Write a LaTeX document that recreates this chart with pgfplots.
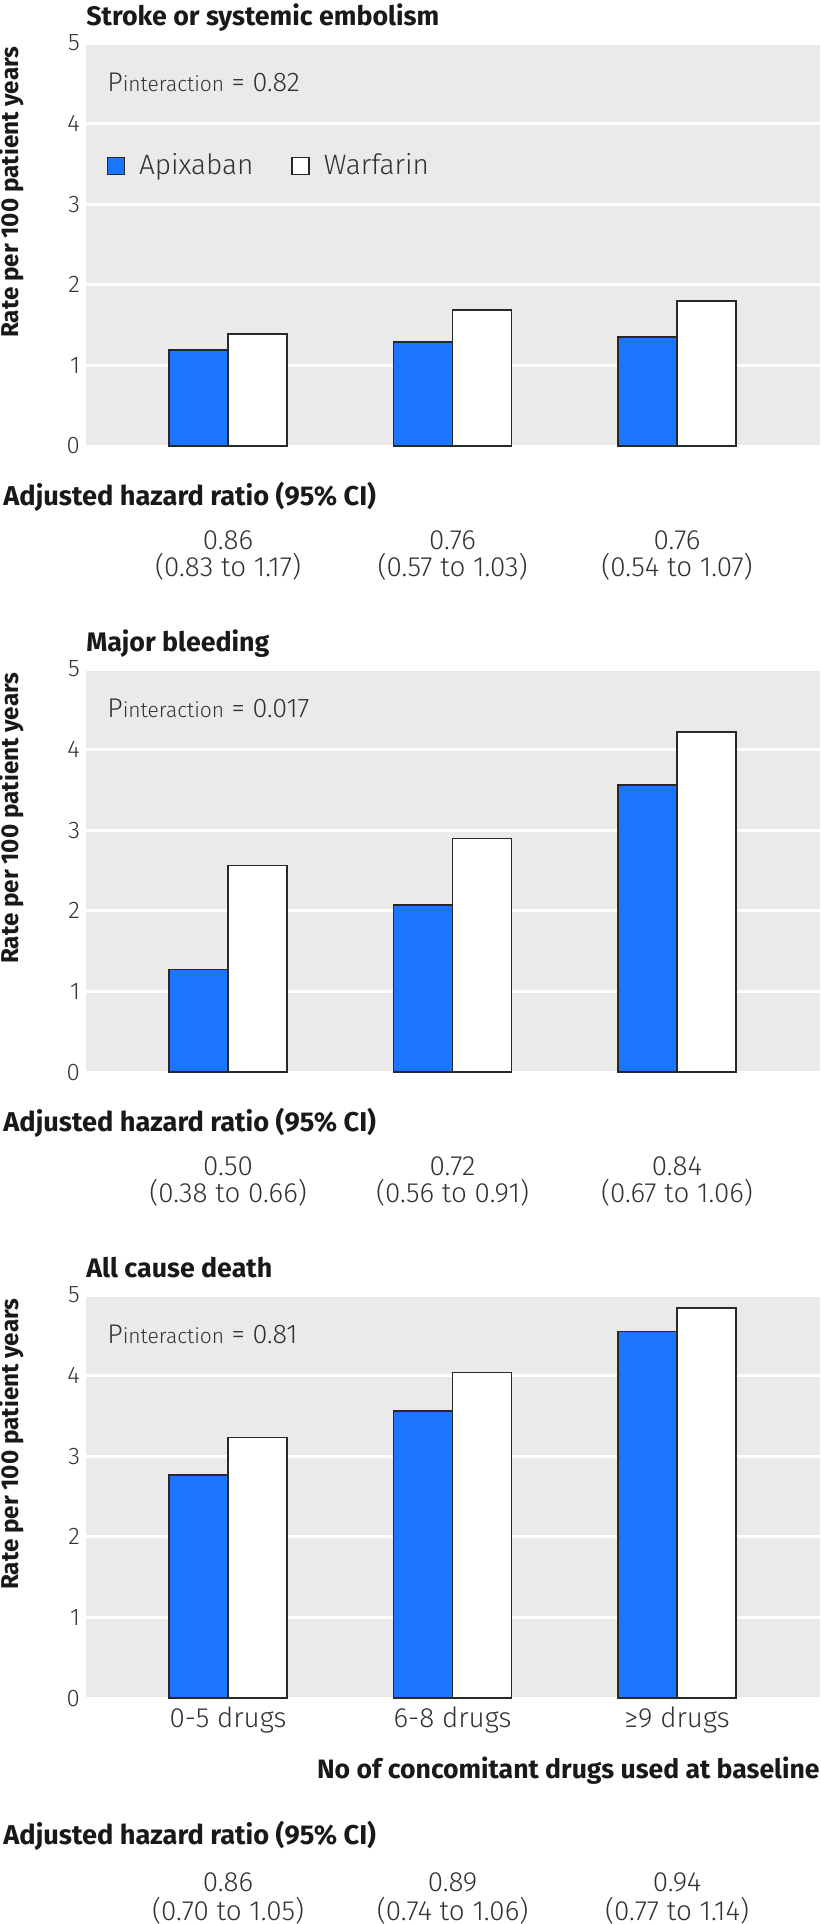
\documentclass[border=0pt]{standalone}
\usepackage{fontspec}
\setmainfont{Fira Sans}
\newfontfamily\lightfont{Fira Sans Light}
\usepackage{pgfplots}
\usepackage{pgfplotstable}
\pgfplotsset{compat=1.18}

\definecolor{apix}{RGB}{27,117,255}
\definecolor{panelbg}{RGB}{234,234,234}
\definecolor{edge}{RGB}{40,40,40}
\definecolor{txt}{RGB}{50,50,50}
\definecolor{hd}{RGB}{25,25,25}

% rates per 100 patient years
\pgfplotstableread{
x apix warf
0 1.19 1.39
1 1.29 1.69
2 1.35 1.80
}\stroke
\pgfplotstableread{
x apix warf
0 1.27 2.56
1 2.07 2.90
2 3.56 4.22
}\bleed
\pgfplotstableread{
x apix warf
0 2.77 3.23
1 3.56 4.04
2 4.55 4.84
}\death

\pgfplotsset{
  panel/.style={
    scale only axis, width=367pt, height=201.5pt,
    xmin=-0.633, xmax=2.637, ymin=0, ymax=5,
    ybar=0pt, bar width=0.263,
    axis background/.style={fill=panelbg},
    axis line style={draw=none},
    major tick length=0pt,
    ytick={0,1,...,5},
    ymajorgrids, major grid style={white, line width=1.5pt},
    xtick={0,1,2}, xticklabels={},
    tick label style={font=\lightfont\fontsize{12}{14}\selectfont, text=txt},
    yticklabel style={xshift=0.5pt},
    /pgf/number format/assume math mode=true,
    clip=false,
    every axis plot/.append style={draw=edge, line width=0.75pt},
  },
}
\tikzset{
  ptitle/.style={anchor=base west, inner sep=0pt, text=hd, font=\bfseries\fontsize{13.4}{16}\selectfont},
  pint/.style={anchor=base west, inner sep=0pt, text=txt, font=\lightfont\fontsize{13.5}{15}\selectfont},
  hrhead/.style={anchor=base west, inner sep=0pt, text=hd, font=\bfseries\fontsize{13.6}{15}\selectfont},
  hrval/.style={anchor=base, inner sep=0pt, text=txt, font=\lightfont\fontsize{13.9}{16}\selectfont},
  ylab/.style={rotate=90, inner sep=0pt, text=hd, font=\bfseries\fontsize{12.15}{14}\selectfont},
}
\newcommand{\pint}[1]{P{\fontsize{10.5}{12}\selectfont interaction} = #1}

\begin{document}
\begin{tikzpicture}
\useasboundingbox (0,0) rectangle (410pt,-962pt);

% panel 1
\begin{axis}[panel, at={(43pt,-223pt)}, anchor=south west,
  legend style={at={(0.028,0.695)}, anchor=west, draw=none, fill=none,
    inner sep=0pt, outer sep=0pt,
    legend columns=2, font=\lightfont\fontsize{14}{16}\selectfont, text=txt,
    /tikz/every odd column/.append style={column sep=5pt},
    /tikz/every even column/.append style={column sep=17pt}},
  legend image code/.code={\draw[#1, line width=0.75pt] (0pt,-4.25pt) rectangle (8.5pt,4.25pt);}]
\addplot[fill=apix] table[x=x, y=apix] {\stroke};
\addplot[fill=white] table[x=x, y=warf] {\stroke};
\legend{Apixaban, Warfarin}
\node[ptitle] at (rel axis cs:0,1) [yshift=9pt] {Stroke or systemic embolism};
\node[pint] at (rel axis cs:0,1) [xshift=10.5pt, yshift=-24pt] {\pint{0.82}};
\node[ylab] at (rel axis cs:-0.102,0.63) {Rate per 100 patient years};
\node[hrhead] at (rel axis cs:0,0) [xshift=-41.5pt, yshift=-29.5pt] {Adjusted hazard ratio (95\% CI)};
\node[hrval] at (axis cs:0,0) [yshift=-51.75pt] {0.86};
\node[hrval] at (axis cs:1,0) [yshift=-51.75pt] {0.76};
\node[hrval] at (axis cs:2,0) [yshift=-51.75pt] {0.76};
\node[hrval] at (axis cs:0,0) [yshift=-65pt] {(0.83 to 1.17)};
\node[hrval] at (axis cs:1,0) [yshift=-65pt] {(0.57 to 1.03)};
\node[hrval] at (axis cs:2,0) [yshift=-65pt] {(0.54 to 1.07)};
\end{axis}

% panel 2
\begin{axis}[panel, at={(43pt,-536pt)}, anchor=south west]
\addplot[fill=apix] table[x=x, y=apix] {\bleed};
\addplot[fill=white] table[x=x, y=warf] {\bleed};
\node[ptitle] at (rel axis cs:0,1) [yshift=9pt] {Major bleeding};
\node[pint] at (rel axis cs:0,1) [xshift=10.5pt, yshift=-24pt] {\pint{0.017}};
\node[ylab] at (rel axis cs:-0.102,0.63) {Rate per 100 patient years};
\node[hrhead] at (rel axis cs:0,0) [xshift=-41.5pt, yshift=-29.5pt] {Adjusted hazard ratio (95\% CI)};
\node[hrval] at (axis cs:0,0) [yshift=-51.75pt] {0.50};
\node[hrval] at (axis cs:1,0) [yshift=-51.75pt] {0.72};
\node[hrval] at (axis cs:2,0) [yshift=-51.75pt] {0.84};
\node[hrval] at (axis cs:0,0) [yshift=-65pt] {(0.38 to 0.66)};
\node[hrval] at (axis cs:1,0) [yshift=-65pt] {(0.56 to 0.91)};
\node[hrval] at (axis cs:2,0) [yshift=-65pt] {(0.67 to 1.06)};
\end{axis}

% panel 3
\begin{axis}[panel, at={(43pt,-849pt)}, anchor=south west,
  xticklabels={0-5 drugs, 6-8 drugs, ≥9 drugs},
  xticklabel style={font=\lightfont\fontsize{13.9}{16}\selectfont, yshift=-1pt}]
\addplot[fill=apix] table[x=x, y=apix] {\death};
\addplot[fill=white] table[x=x, y=warf] {\death};
\node[ptitle] at (rel axis cs:0,1) [yshift=9pt] {All cause death};
\node[pint] at (rel axis cs:0,1) [xshift=10.5pt, yshift=-24pt] {\pint{0.81}};
\node[ylab] at (rel axis cs:-0.102,0.63) {Rate per 100 patient years};
\node[anchor=base east, inner sep=0pt, text=hd, font=\bfseries\fontsize{13.3}{15}\selectfont]
  at (rel axis cs:1,0) [yshift=-40pt] {No of concomitant drugs used at baseline};
\node[hrhead] at (rel axis cs:0,0) [xshift=-41.5pt, yshift=-73pt] {Adjusted hazard ratio (95\% CI)};
\node[hrval] at (axis cs:0,0) [yshift=-96.75pt] {0.86};
\node[hrval] at (axis cs:1,0) [yshift=-96.75pt] {0.89};
\node[hrval] at (axis cs:2,0) [yshift=-96.75pt] {0.94};
\node[hrval] at (axis cs:0,0) [yshift=-111.25pt] {(0.70 to 1.05)};
\node[hrval] at (axis cs:1,0) [yshift=-111.25pt] {(0.74 to 1.06)};
\node[hrval] at (axis cs:2,0) [yshift=-111.25pt] {(0.77 to 1.14)};
\end{axis}
\end{tikzpicture}
\end{document}
